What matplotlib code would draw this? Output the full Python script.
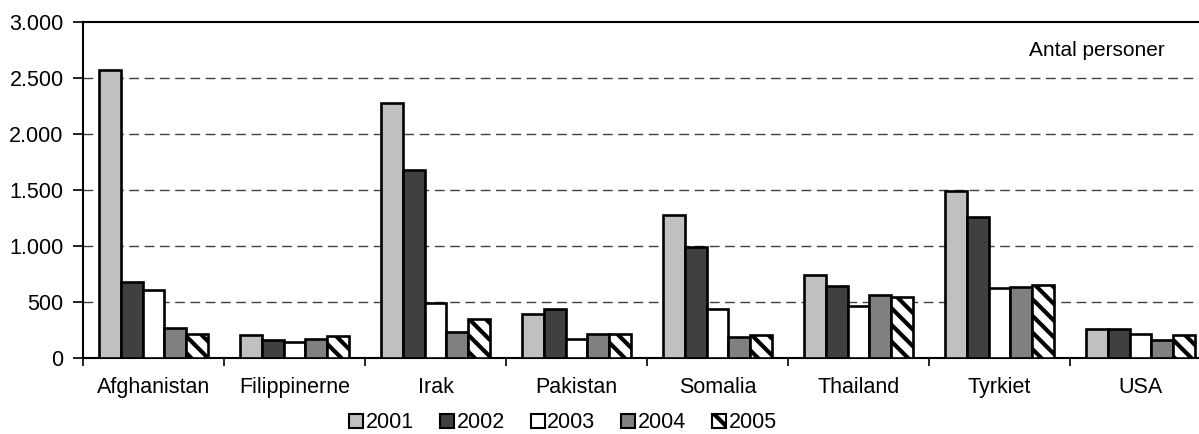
import matplotlib
matplotlib.use("Agg")
import matplotlib.pyplot as plt
import numpy as np
from matplotlib.patches import Patch

plt.rcParams['font.family'] = ['Liberation Sans', 'DejaVu Sans']
plt.rcParams['hatch.linewidth'] = 3.0

categories = ["Afghanistan", "Filippinerne", "Irak", "Pakistan", "Somalia", "Thailand", "Tyrkiet", "USA"]
years = ["2001", "2002", "2003", "2004", "2005"]
v2001 = [2565, 202, 2272, 396, 1278, 737, 1488, 262]
v2002 = [677, 158, 1679, 440, 989, 645, 1256, 256]
v2003 = [603, 143, 494, 173, 440, 461, 627, 211]
v2004 = [267, 173, 232, 211, 187, 561, 633, 158]
v2005 = [211, 193, 345, 211, 205, 543, 654, 205]
series = [v2001, v2002, v2003, v2004, v2005]
yticks = [0, 500, 1000, 1500, 2000, 2500, 3000]
ytick_labels = ["0", "500", "1.000", "1.500", "2.000", "2.500", "3.000"]

colors = ["#C0C0C0", "#404040", "#FFFFFF", "#808080", "#FFFFFF"]
hatches = [None, None, None, None, "\\\\"]

W, H = 1199, 434
fig = plt.figure(figsize=(W / 100, H / 100), dpi=100)
ax = fig.add_axes([83 / W, 76 / H, 1128 / W, 336.5 / H])

n = len(categories)
x = np.arange(n) + 0.5
bw = 0.155
for k, vals in enumerate(series):
    offs = (k - 2) * bw
    ax.bar(x + offs, vals, width=bw, color=colors[k], edgecolor="black",
           linewidth=1.9, hatch=hatches[k], zorder=3)

ax.set_xlim(0, n)
ax.set_ylim(0, 3000)
ax.set_yticks(yticks)
ax.set_yticklabels(ytick_labels, fontsize=15.5)
for yv in yticks[1:-1]:
    ax.axhline(yv, color="#404040", linewidth=1.0, linestyle=(0, (7, 4)), zorder=1)

ax.set_xticks(np.arange(n + 1))
ax.set_xticklabels([])
ax.set_xticks(x, minor=True)
ax.set_xticklabels(categories, minor=True, fontsize=15.5)
ax.tick_params(axis="x", which="major", length=6, width=1.2, direction="out")
ax.tick_params(axis="x", which="minor", length=0, pad=14)
ax.tick_params(axis="y", length=7, width=1.2, pad=7)

for s in ["left", "top", "bottom"]:
    ax.spines[s].set_linewidth(1.5)
    ax.spines[s].set_color("black")
ax.spines["right"].set_visible(False)

fig.text(1165 / W, 1 - 50 / H, "Antal personer", fontsize=15, ha="right", va="center")

handles = [Patch(facecolor=colors[k], edgecolor="black", linewidth=1.5, hatch=hatches[k])
           for k in range(len(years))]
fig.legend(handles, years, loc="center", bbox_to_anchor=(563 / W, 1 - 423 / H),
           ncol=5, frameon=False, fontsize=15.5, handlelength=0.65, handleheight=0.65,
           handletextpad=0.12, columnspacing=1.2, borderpad=0)

fig.savefig("out.png", dpi=100)
